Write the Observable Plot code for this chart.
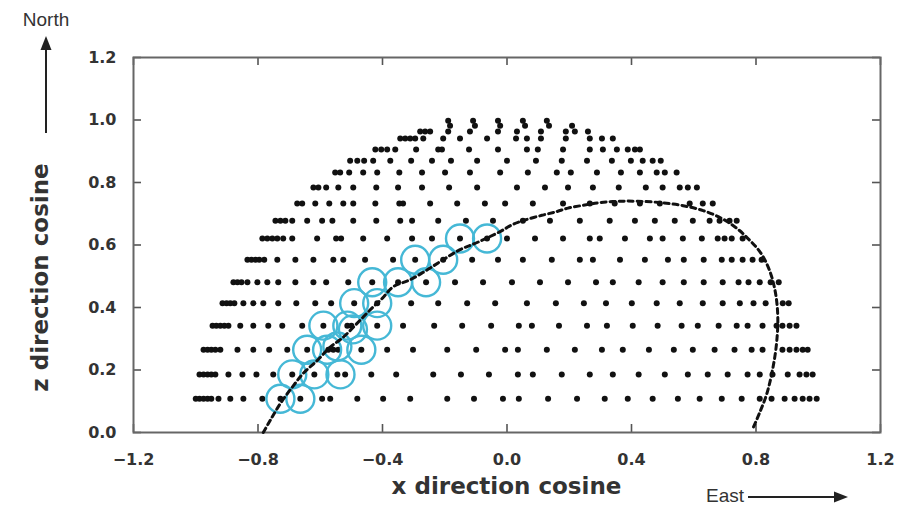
<!DOCTYPE html>
<html><head><meta charset="utf-8">
<script src="https://cdn.jsdelivr.net/npm/d3@7"></script>
<script src="https://cdn.jsdelivr.net/npm/@observablehq/plot@0.6"></script>
<style>body{margin:0;background:#fff}#chart{width:921px;height:508px}</style>
</head><body><div id="chart"></div>
<script>
// ---- data (x direction cosine, z direction cosine) ----
const rowZ = [0.108, 0.186, 0.265, 0.342, 0.414, 0.481, 0.553, 0.621, 0.678, 0.733, 0.784, 0.832, 0.870, 0.906, 0.941, 0.963, 0.982, 0.998];
const rowX = [
  [-1.000,-0.988,-0.975,-0.962,-0.950,-0.927,-0.889,-0.847,-0.786,-0.728,-0.664,-0.594,-0.568,-0.481,-0.398,-0.311,-0.192,-0.106,-0.013,0.038,0.132,0.225,0.314,0.388,0.468,0.549,0.619,0.690,0.754,0.812,0.850,0.892,0.924,0.950,0.972,0.995],
  [-0.988,-0.975,-0.962,-0.950,-0.937,-0.895,-0.850,-0.805,-0.751,-0.690,-0.619,-0.545,-0.520,-0.436,-0.356,-0.237,-0.148,-0.058,0.035,0.083,0.176,0.266,0.340,0.423,0.507,0.581,0.645,0.709,0.773,0.812,0.853,0.902,0.940,0.962,0.982],
  [-0.975,-0.962,-0.950,-0.937,-0.921,-0.866,-0.815,-0.764,-0.706,-0.642,-0.574,-0.558,-0.542,-0.468,-0.385,-0.302,-0.192,-0.099,-0.006,0.035,0.128,0.218,0.305,0.372,0.456,0.536,0.597,0.667,0.731,0.786,0.821,0.885,0.908,0.930,0.950,0.966],
  [-0.946,-0.934,-0.921,-0.908,-0.895,-0.857,-0.815,-0.767,-0.722,-0.658,-0.590,-0.513,-0.500,-0.417,-0.334,-0.234,-0.144,-0.051,0.038,0.080,0.167,0.257,0.321,0.404,0.484,0.561,0.613,0.680,0.738,0.773,0.821,0.866,0.885,0.908,0.930],
  [-0.914,-0.901,-0.889,-0.876,-0.847,-0.815,-0.783,-0.735,-0.677,-0.616,-0.565,-0.491,-0.417,-0.308,-0.221,-0.128,-0.038,0.064,0.157,0.247,0.318,0.401,0.481,0.555,0.629,0.693,0.748,0.792,0.831,0.886,0.905],
  [-0.879,-0.866,-0.853,-0.834,-0.802,-0.770,-0.735,-0.680,-0.622,-0.581,-0.510,-0.433,-0.350,-0.260,-0.167,-0.077,0.016,0.106,0.196,0.286,0.340,0.423,0.500,0.568,0.632,0.693,0.744,0.776,0.812,0.847,0.873],
  [-0.834,-0.821,-0.808,-0.796,-0.780,-0.738,-0.680,-0.622,-0.558,-0.526,-0.456,-0.366,-0.295,-0.205,-0.112,-0.029,0.051,0.144,0.234,0.276,0.363,0.443,0.517,0.568,0.632,0.690,0.722,0.757,0.789,0.818],
  [-0.786,-0.770,-0.754,-0.738,-0.719,-0.690,-0.610,-0.549,-0.533,-0.462,-0.385,-0.305,-0.241,-0.151,-0.064,0.000,0.090,0.180,0.266,0.298,0.379,0.459,0.500,0.565,0.626,0.677,0.699,0.722,0.757],
  [-0.744,-0.728,-0.712,-0.690,-0.642,-0.594,-0.561,-0.494,-0.420,-0.343,-0.305,-0.221,-0.132,-0.045,0.051,0.138,0.234,0.330,0.411,0.475,0.539,0.597,0.651,0.683,0.715,0.738],
  [-0.674,-0.658,-0.616,-0.571,-0.526,-0.494,-0.423,-0.346,-0.334,-0.247,-0.160,-0.071,-0.006,0.083,0.180,0.266,0.346,0.427,0.491,0.587,0.629,0.661],
  [-0.622,-0.606,-0.581,-0.542,-0.494,-0.420,-0.350,-0.273,-0.186,-0.096,0.032,0.122,0.196,0.276,0.359,0.446,0.500,0.555,0.581,0.610],
  [-0.552,-0.536,-0.507,-0.462,-0.417,-0.346,-0.273,-0.199,-0.119,-0.022,0.067,0.160,0.205,0.289,0.366,0.427,0.481,0.507,0.545],
  [-0.504,-0.481,-0.459,-0.430,-0.375,-0.308,-0.241,-0.180,-0.096,0.000,0.093,0.176,0.257,0.337,0.398,0.436,0.468,0.494],
  [-0.423,-0.404,-0.385,-0.359,-0.292,-0.221,-0.209,-0.122,-0.029,0.064,0.099,0.180,0.266,0.308,0.353,0.388,0.411,0.427],
  [-0.343,-0.327,-0.311,-0.295,-0.269,-0.205,-0.151,-0.064,0.029,0.064,0.109,0.189,0.266,0.305,0.340],
  [-0.279,-0.263,-0.247,-0.189,-0.119,-0.029,0.032,0.109,0.189,0.218,0.260],
  [-0.183,-0.103,-0.022,0.058,0.135,0.209],
  [-0.189,-0.109,-0.029,0.051,0.128]
];
const arcX = [-0.783,-0.76,-0.728,-0.69,-0.654,-0.61,-0.568,-0.526,-0.481,-0.44,-0.40,-0.366,-0.311,-0.257,-0.205,-0.151,-0.096,-0.022,0.019,0.058,0.112,0.16,0.196,0.25,0.30,0.36,0.42,0.49,0.56,0.63,0.69,0.74,0.78,0.815,0.843,0.862,0.87,0.866,0.853,0.835,0.812,0.79];
const arcZ = [0.0,0.04,0.093,0.145,0.19,0.23,0.273,0.305,0.35,0.392,0.43,0.466,0.489,0.52,0.553,0.585,0.608,0.643,0.666,0.68,0.695,0.707,0.718,0.728,0.736,0.74,0.74,0.736,0.727,0.71,0.685,0.652,0.615,0.575,0.52,0.45,0.37,0.285,0.2,0.125,0.064,0.013];
const ringX = [-0.728,-0.664,-0.690,-0.619,-0.535,-0.642,-0.578,-0.545,-0.468,-0.590,-0.513,-0.495,-0.417,-0.491,-0.417,-0.433,-0.350,-0.260,-0.295,-0.205,-0.151,-0.064];
const ringZ = [0.108,0.108,0.186,0.186,0.186,0.265,0.265,0.275,0.265,0.342,0.342,0.330,0.342,0.414,0.414,0.481,0.481,0.481,0.553,0.553,0.621,0.621];
const xTicks = [-1.2,-0.8,-0.4,0.0,0.4,0.8,1.2];
const yTicks = [0.0,0.2,0.4,0.6,0.8,1.0,1.2];
const xLabel = "x direction cosine";
const yLabel = "z direction cosine";
const northLabel = "North";
const eastLabel = "East";

// ---- build ----
const points = rowX.flatMap((xs, i) => xs.map(x => ({x, z: rowZ[i]})));
const arc = arcX.map((x, i) => ({x, z: arcZ[i]}));
const rings = ringX.map((x, i) => ({x, z: ringZ[i]}));

const W = 921, H = 508, mL = 133, mR = 41, mT = 57, mB = 76;
const innerW = W - mL - mR, innerH = H - mT - mB;
const fmt = d3.format(".1f");
const tickColor = "#555", textColor = "#333", cyan = "#45b8d6";

const plot = Plot.plot({
  width: W, height: H,
  marginLeft: mL, marginRight: mR, marginTop: mT, marginBottom: mB,
  x: {domain: [-1.2, 1.2]},
  y: {domain: [0, 1.2]},
  style: {fontFamily: "DejaVu Sans", background: "#fff"},
  marks: [
    Plot.axisX(xTicks, {anchor: "bottom", tickSize: 0, tickPadding: 21, tickFormat: fmt, fontSize: 16, fontWeight: "bold", fill: textColor, label: null}),
    Plot.axisY(yTicks, {anchor: "left", tickSize: 0, tickPadding: 17, tickFormat: fmt, fontSize: 16, fontWeight: "bold", fill: textColor, label: null}),
    Plot.tickX(xTicks, {x: d => d, insetTop: innerH - 8, stroke: tickColor, strokeWidth: 1.6}),
    Plot.tickX(xTicks, {x: d => d, insetBottom: innerH - 8, stroke: tickColor, strokeWidth: 1.6}),
    Plot.tickY(yTicks, {y: d => d, insetRight: innerW - 8, stroke: tickColor, strokeWidth: 1.6}),
    Plot.tickY(yTicks, {y: d => d, insetLeft: innerW - 8, stroke: tickColor, strokeWidth: 1.6}),
    Plot.frame({stroke: "#666", strokeWidth: 2}),
    Plot.dot(points, {x: "x", y: "z", r: 3, fill: "#111", stroke: null}),
    Plot.dot(rings, {x: "x", y: "z", r: 14, fill: "none", stroke: cyan, strokeWidth: 2.4}),
    Plot.line(arc, {x: "x", y: "z", curve: "catmull-rom", stroke: "#111", strokeWidth: 3, strokeDasharray: "5,4"})
  ]
});

const svg = d3.select(plot);
const sx = plot.scale("x").apply, sy = plot.scale("y").apply;
const cx = (sx(-1.2) + sx(1.2)) / 2;
const cy = (sy(0) + sy(1.2)) / 2;

// axis titles
svg.append("text").text(xLabel)
  .attr("x", cx).attr("y", H - 21)
  .attr("text-anchor", "middle").attr("dominant-baseline", "middle")
  .attr("font-family", "DejaVu Sans").attr("font-size", 23).attr("font-weight", "bold").attr("fill", textColor);
svg.append("text").text(yLabel)
  .attr("transform", `translate(41,${cy + 33}) rotate(-90)`)
  .attr("text-anchor", "middle").attr("dominant-baseline", "middle")
  .attr("font-family", "DejaVu Sans").attr("font-size", 23).attr("font-weight", "bold").attr("fill", textColor);

// compass annotations
svg.append("text").text(northLabel)
  .attr("x", 46).attr("y", 21).attr("text-anchor", "middle").attr("dominant-baseline", "middle")
  .attr("font-family", "Liberation Sans").attr("font-size", 19).attr("fill", textColor);
svg.append("line").attr("x1", 46).attr("x2", 46).attr("y1", 133).attr("y2", 48)
  .attr("stroke", "#222").attr("stroke-width", 2);
svg.append("path").attr("d", "M46,36 L40.5,50 L51.5,50 Z").attr("fill", "#222");

svg.append("text").text(eastLabel)
  .attr("x", 725).attr("y", 497).attr("text-anchor", "middle").attr("dominant-baseline", "middle")
  .attr("font-family", "Liberation Sans").attr("font-size", 19).attr("fill", textColor);
svg.append("line").attr("x1", 748).attr("x2", 836).attr("y1", 497).attr("y2", 497)
  .attr("stroke", "#222").attr("stroke-width", 2);
svg.append("path").attr("d", "M848,497 L834,491.5 L834,502.5 Z").attr("fill", "#222");

document.getElementById("chart").appendChild(plot);
</script>
</body></html>
